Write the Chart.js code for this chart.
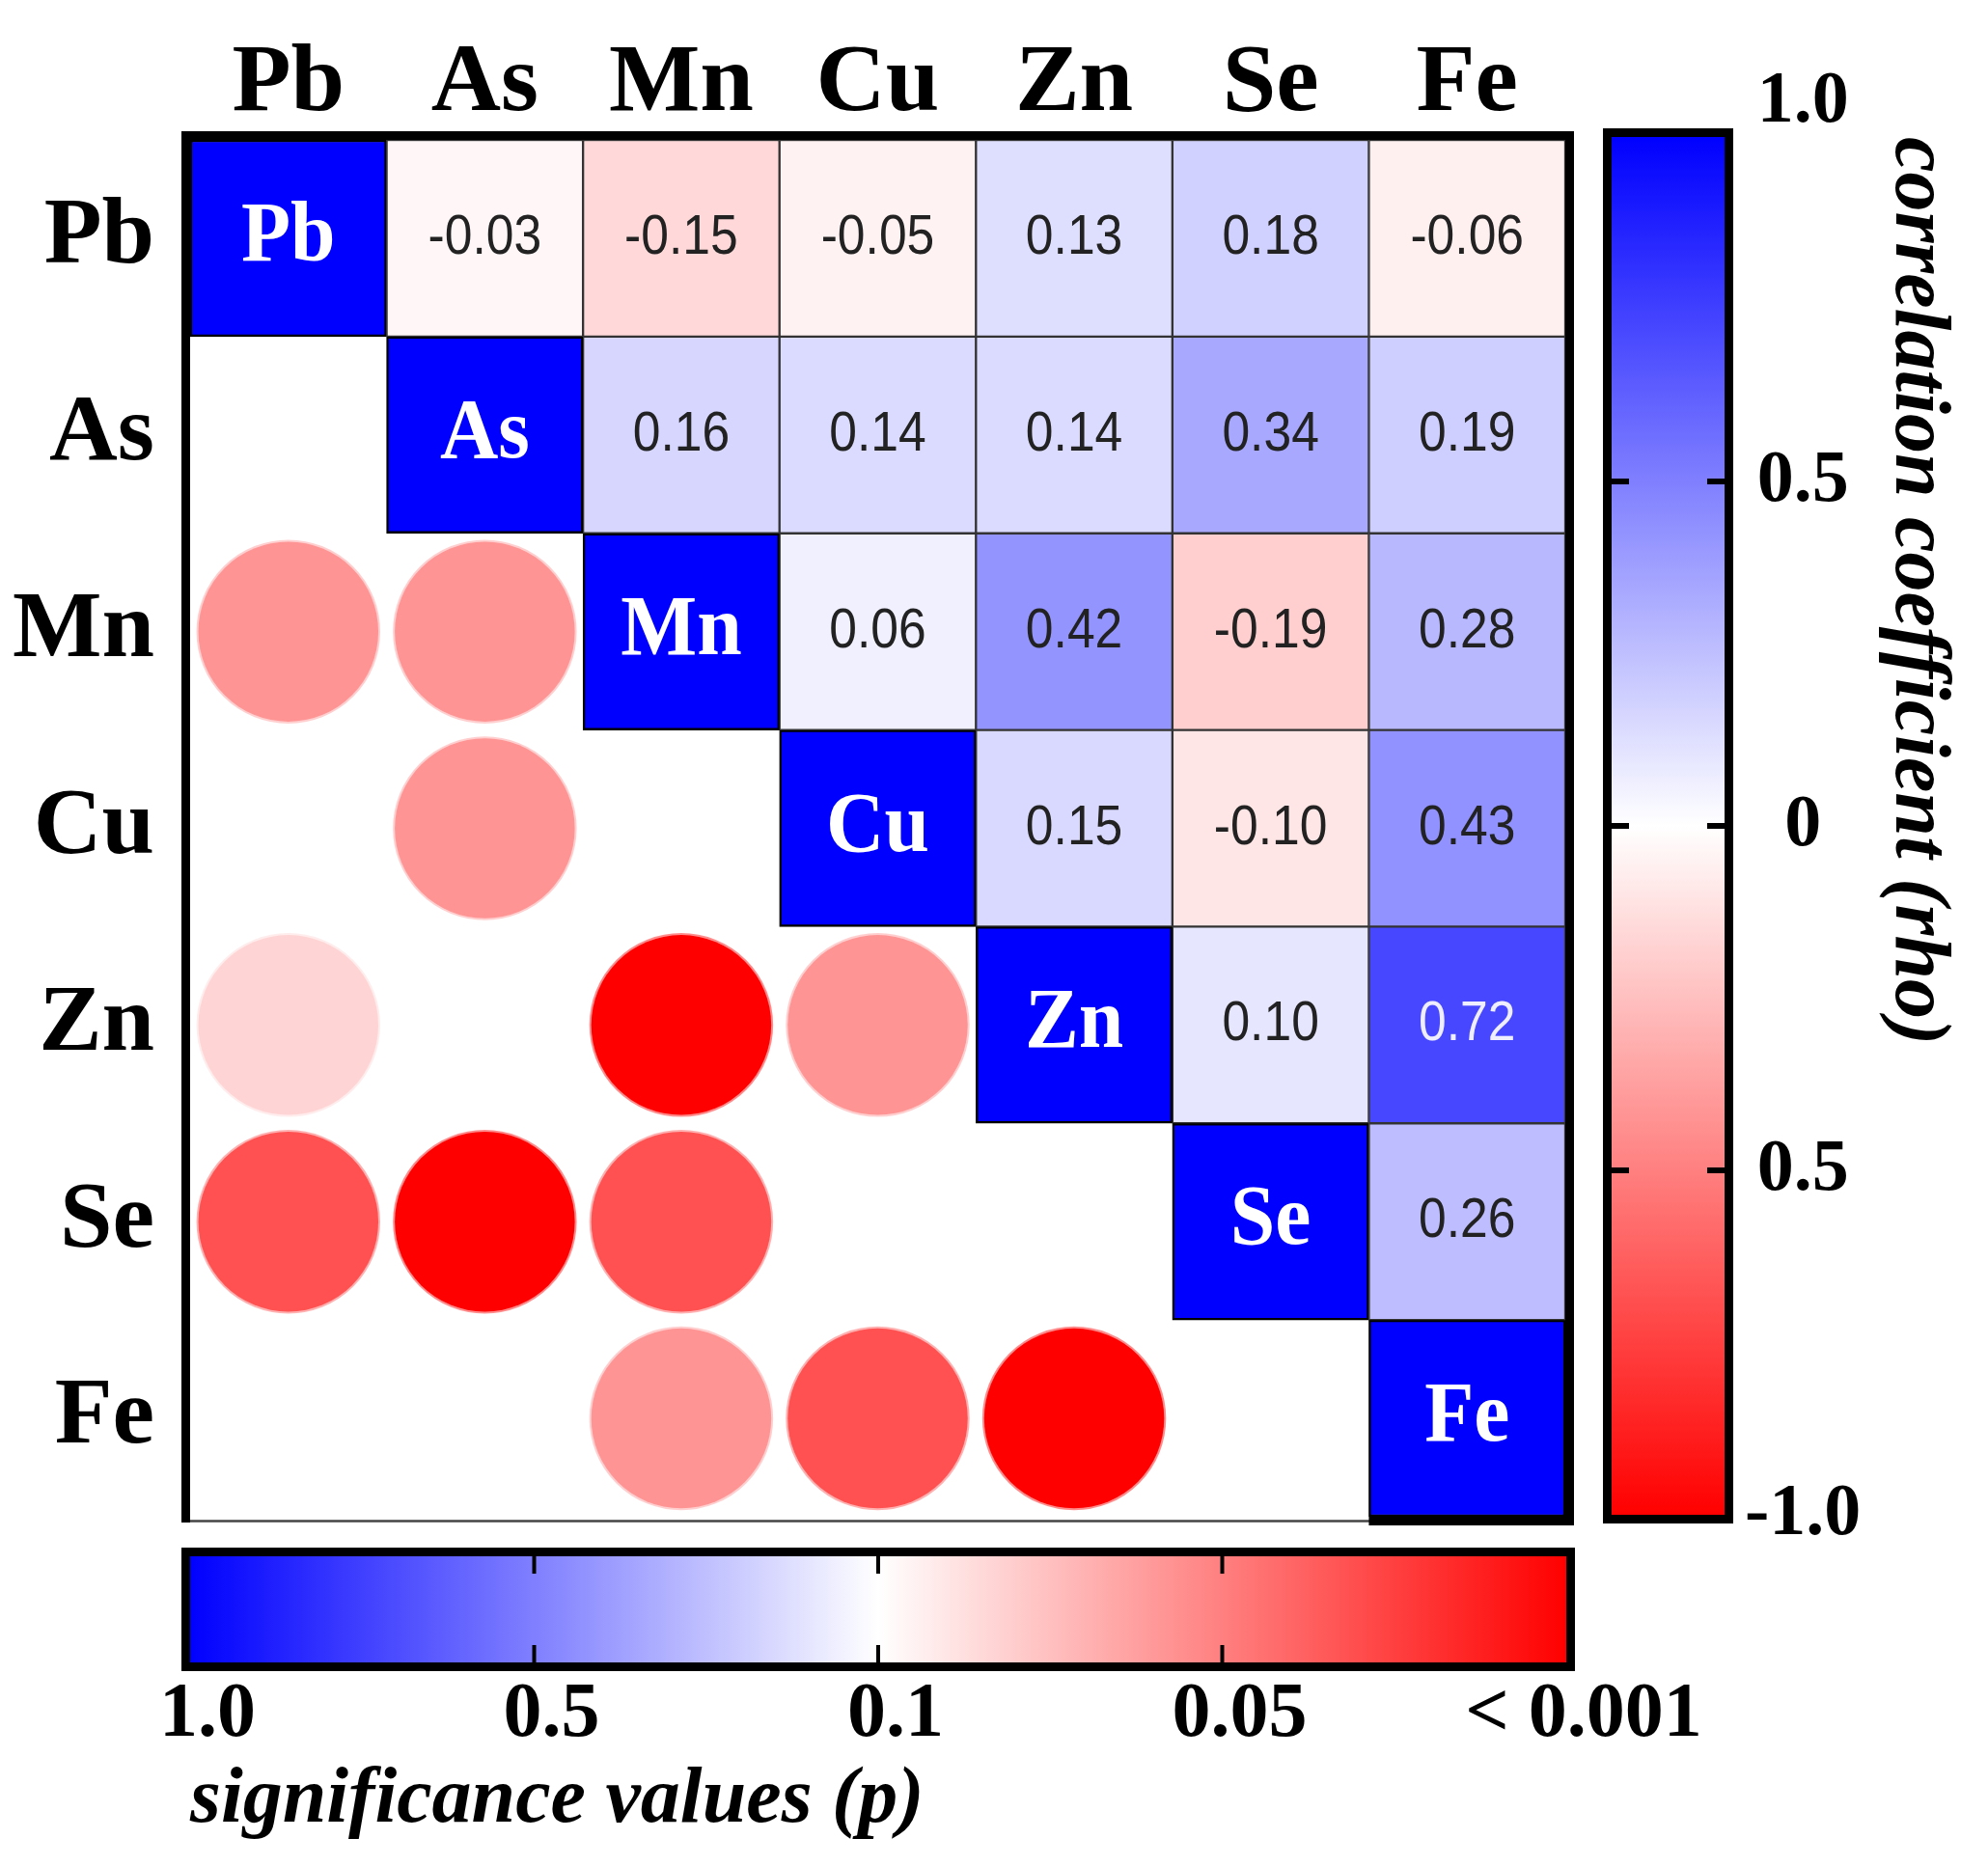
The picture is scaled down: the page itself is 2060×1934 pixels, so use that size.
<!DOCTYPE html>
<html>
<head>
<meta charset="utf-8">
<script src="https://cdn.jsdelivr.net/npm/chart.js@4.4.1/dist/chart.umd.min.js"></script>
<style>
  html, body { margin: 0; padding: 0; background: #ffffff; }
  #wrap { position: relative; width: 2060px; height: 1934px; overflow: hidden; background: #ffffff; }
  canvas { position: absolute; left: 0; top: 0; }
</style>
</head>
<body>
<div id="wrap">
  <canvas id="main" width="2060" height="1934"></canvas>
  <canvas id="rhoBar" width="2060" height="1934"></canvas>
  <canvas id="pBar" width="2060" height="1934"></canvas>
</div>
<script>
// ---------------- data ----------------
const elements = ['Pb', 'As', 'Mn', 'Cu', 'Zn', 'Se', 'Fe'];

// correlation coefficients (upper triangle, row element vs column element)
const rhoPb = [1, -0.03, -0.15, -0.05, 0.13, 0.18, -0.06];
const rhoAs = [null, 1, 0.16, 0.14, 0.14, 0.34, 0.19];
const rhoMn = [null, null, 1, 0.06, 0.42, -0.19, 0.28];
const rhoCu = [null, null, null, 1, 0.15, -0.10, 0.43];
const rhoZn = [null, null, null, null, 1, 0.10, 0.72];
const rhoSe = [null, null, null, null, null, 1, 0.26];
const rhoFe = [null, null, null, null, null, null, 1];

// significance values (lower triangle, only those drawn as circles)
const pPb = [null, null, null, null, null, null, null];
const pAs = [null, null, null, null, null, null, null];
const pMn = [0.056, 0.056, null, null, null, null, null];
const pCu = [null, 0.056, null, null, null, null, null];
const pZn = [0.079, null, 0.001, 0.056, null, null, null];
const pSe = [0.012, 0.001, 0.012, null, null, null, null];
const pFe = [null, null, 0.056, 0.012, 0.001, null, null];

// colour-bar ticks
const rhoTicks = [1, 0.5, 0, -0.5, -1];
const rhoTickLabels = ['1.0', '0.5', '0', '0.5', '-1.0'];
const pTicks = [1.0, 0.5, 0.1, 0.05, 0.001];
const pTickLabels = ['1.0', '0.5', '0.1', '0.05', '< 0.001'];

const rhoRows = [rhoPb, rhoAs, rhoMn, rhoCu, rhoZn, rhoSe, rhoFe];
const pRows = [pPb, pAs, pMn, pCu, pZn, pSe, pFe];

// ---------------- colour helpers ----------------
function rhoColor(r) {
  if (r >= 0) { const w = Math.round(255 * (1 - r)); return `rgb(${w},${w},255)`; }
  const w = Math.round(255 * (1 + r)); return `rgb(255,${w},${w})`;
}
function pPosition(p) {
  const n = pTicks.length - 1;
  if (p >= pTicks[0]) return 0;
  if (p <= pTicks[n]) return 1;
  for (let k = 0; k < n; k++) {
    const a = pTicks[k], b = pTicks[k + 1];
    if (p <= a && p >= b) {
      const f = (Math.log(a) - Math.log(p)) / (Math.log(a) - Math.log(b));
      return (k + f) / n;
    }
  }
  return 1;
}
function posColor(t, alpha) {
  let r, g, b;
  if (t <= 0.5) { const w = Math.round(510 * t); r = w; g = w; b = 255; }
  else { const w = Math.round(510 * (1 - t)); r = 255; g = w; b = w; }
  return alpha === undefined ? `rgb(${r},${g},${b})` : `rgba(${r},${g},${b},${alpha})`;
}

const SERIF = '"Liberation Serif", "Times New Roman", serif';
const SANS = '"Liberation Sans", Arial, sans-serif';

// ---------------- main heat map ----------------
const cellSets = rhoRows.map((row, i) => ({
  type: 'bar',
  label: 'rho ' + elements[i],
  data: row.map(v => (v === null ? null : [i, i + 1])),
  backgroundColor: row.map(v => (v === null ? 'rgba(0,0,0,0)' : rhoColor(v))),
  borderColor: row.map((v, j) => (j === i ? '#000000' : '#333333')),
  borderWidth: row.map((v, j) => (j === i ? 2.5 : 1.5)),
  borderSkipped: false,
  grouped: false,
  barPercentage: 1,
  categoryPercentage: 1,
  rhoValues: row,
  rowIndex: i,
  order: 2
}));

const circlePoints = [];
pRows.forEach((row, i) => row.forEach((p, j) => {
  if (p !== null) circlePoints.push({ x: elements[j], y: i + 0.5, p: p });
}));

function circleRadius(ctx) {
  const s = ctx.chart.scales.x;
  if (!s || !isFinite(s.right - s.left)) return 0;
  return (s.right - s.left) / elements.length * 0.458;
}

const circleSet = {
  type: 'scatter',
  label: 'p',
  data: circlePoints,
  showLine: false,
  pointStyle: 'circle',
  pointBackgroundColor: ctx => (ctx.raw ? posColor(pPosition(ctx.raw.p)) : 'rgba(0,0,0,0)'),
  pointBorderColor: ctx => (ctx.raw ? posColor(pPosition(ctx.raw.p), 0.45) : 'rgba(0,0,0,0)'),
  pointBorderWidth: 4,
  pointRadius: circleRadius,
  pointHoverRadius: circleRadius,
  order: 1
};

const cellTextPlugin = {
  id: 'cellText',
  afterDatasetsDraw(chart) {
    const ctx = chart.ctx;
    chart.data.datasets.forEach((ds, di) => {
      if (ds.rhoValues === undefined) return;
      const meta = chart.getDatasetMeta(di);
      meta.data.forEach((el, j) => {
        const v = ds.rhoValues[j];
        if (v === null || v === undefined) return;
        const { x, y, base } = el.getProps(['x', 'y', 'base'], true);
        const cy = (y + base) / 2;
        ctx.save();
        ctx.translate(x, cy);
        ctx.textAlign = 'center';
        ctx.textBaseline = 'alphabetic';
        if (j === ds.rowIndex) {
          ctx.scale(0.95, 1);
          ctx.font = 'bold 88px ' + SERIF;
          ctx.fillStyle = '#ffffff';
          ctx.fillText(elements[j], 0, 23);
        } else {
          ctx.scale(0.89, 1);
          ctx.font = '58px ' + SANS;
          ctx.fillStyle = v > 0.6 ? '#eeeeff' : '#222222';
          ctx.fillText(v.toFixed(2), 0, 16);
        }
        ctx.restore();
      });
    });
  }
};

const mainFramePlugin = {
  id: 'mainFrame',
  afterDraw(chart) {
    const ctx = chart.ctx;
    const { left, right, top, bottom } = chart.chartArea;
    const half = (right - left) / elements.length / 2;
    const xs = chart.scales.x;
    ctx.save();
    ctx.strokeStyle = '#444444';
    ctx.lineWidth = 2.5;
    ctx.beginPath();
    ctx.moveTo(left - 4.5, bottom + 4.5);
    ctx.lineTo(right, bottom + 4.5);
    ctx.stroke();
    ctx.strokeStyle = '#000000';
    ctx.lineWidth = 9;
    ctx.beginPath();
    ctx.moveTo(xs.getPixelForValue(elements.length - 1) - half, bottom + 4.5);
    ctx.lineTo(right + 9, bottom + 4.5);
    ctx.stroke();
    ctx.lineJoin = 'miter';
    ctx.beginPath();
    ctx.moveTo(left - 4.5, bottom + 6);
    ctx.lineTo(left - 4.5, top - 4.5);
    ctx.lineTo(right + 4.5, top - 4.5);
    ctx.lineTo(right + 4.5, bottom + 9);
    ctx.stroke();
    ctx.restore();
  }
};

new Chart(document.getElementById('main'), {
  type: 'bar',
  data: { labels: elements, datasets: [...cellSets, circleSet] },
  options: {
    responsive: false,
    animation: false,
    devicePixelRatio: 1,
    layout: { padding: { left: 0, top: 0, right: 438, bottom: 362 } },
    plugins: { legend: { display: false }, tooltip: { enabled: false } },
    events: [],
    scales: {
      x: {
        type: 'category',
        position: 'top',
        offset: true,
        grid: { display: false, drawTicks: false },
        border: { display: false },
        ticks: {
          color: '#000000',
          padding: -3,
          maxRotation: 0,
          autoSkip: false,
          font: { family: SERIF, weight: 'bold', size: 100 }
        },
        afterFit: s => { s.height = 145; }
      },
      y: {
        type: 'linear',
        position: 'left',
        min: 0,
        max: elements.length,
        reverse: true,
        grid: { display: false, drawTicks: false },
        border: { display: false },
        afterBuildTicks: s => { s.ticks = elements.map((_, i) => ({ value: i + 0.5 })); },
        ticks: {
          color: '#000000',
          padding: 37,
          autoSkip: false,
          font: { family: SERIF, weight: 'bold', size: 98 },
          callback: v => elements[Math.floor(v)]
        },
        afterFit: s => { s.width = 197; }
      }
    }
  },
  plugins: [cellTextPlugin, mainFramePlugin]
});

// ---------------- colour-bar frame helper ----------------
function barFramePlugin(kind) {
  return {
    id: 'barFrame_' + kind,
    afterDatasetsDraw(chart) {
      const ctx = chart.ctx;
      const { left, right, top, bottom } = chart.chartArea;
      ctx.save();
      ctx.strokeStyle = '#000000';
      if (kind === 'rho') {
        const ys = chart.scales.y;
        ctx.lineWidth = 6;
        rhoTicks.slice(1, -1).forEach(v => {
          const py = ys.getPixelForValue(v);
          ctx.beginPath(); ctx.moveTo(left, py); ctx.lineTo(left + 18, py); ctx.stroke();
          ctx.beginPath(); ctx.moveTo(right - 18, py); ctx.lineTo(right, py); ctx.stroke();
        });
      } else {
        const xs = chart.scales.x;
        ctx.lineWidth = 4;
        pTicks.slice(1, -1).forEach((_, k) => {
          const px = xs.getPixelForValue(k + 1);
          ctx.beginPath(); ctx.moveTo(px, top); ctx.lineTo(px, top + 18); ctx.stroke();
          ctx.beginPath(); ctx.moveTo(px, bottom - 18); ctx.lineTo(px, bottom); ctx.stroke();
        });
      }
      ctx.lineWidth = 9;
      ctx.strokeRect(left - 4.5, top - 4.5, right - left + 9, bottom - top + 9);
      ctx.restore();
    }
  };
}

// ---------------- correlation colour bar (right) ----------------
new Chart(document.getElementById('rhoBar'), {
  type: 'bar',
  data: {
    labels: ['rho'],
    datasets: [{
      data: [[rhoTicks[rhoTicks.length - 1], rhoTicks[0]]],
      backgroundColor: ctx => {
        const ch = ctx.chart;
        if (!ch.chartArea) return 'rgba(0,0,0,0)';
        const ys = ch.scales.y;
        const g = ch.ctx.createLinearGradient(0, ys.getPixelForValue(1), 0, ys.getPixelForValue(-1));
        g.addColorStop(0, rhoColor(1));
        g.addColorStop(0.5, rhoColor(0));
        g.addColorStop(1, rhoColor(-1));
        return g;
      },
      borderWidth: 0,
      barPercentage: 1,
      categoryPercentage: 1
    }]
  },
  options: {
    responsive: false,
    animation: false,
    devicePixelRatio: 1,
    events: [],
    layout: { padding: { left: 1670, top: 142, right: 0, bottom: 364 } },
    plugins: { legend: { display: false }, tooltip: { enabled: false } },
    scales: {
      x: { display: false },
      y: {
        type: 'linear',
        position: 'right',
        min: -1,
        max: 1,
        grid: { display: false, drawTicks: false },
        border: { display: false },
        afterBuildTicks: s => { s.ticks = rhoTicks.map(v => ({ value: v })); },
        ticks: {
          color: '#000000',
          padding: 21,
          crossAlign: 'center',
          autoSkip: false,
          font: { family: SERIF, weight: 'bold', size: 76, lineHeight: 0.95 },
          callback: v => {
            const k = rhoTicks.indexOf(v);
            const t = rhoTickLabels[k];
            return k === 0 ? [t, ''] : t;
          }
        },
        title: {
          display: true,
          text: 'correlation coefficient (rho)',
          align: 'end',
          color: '#000000',
          font: { family: SERIF, weight: 'bold', style: 'italic', size: 82 },
          padding: { top: 25, bottom: 0 }
        },
        afterFit: s => { s.width = 273; }
      }
    }
  },
  plugins: [barFramePlugin('rho')]
});

// ---------------- significance colour bar (bottom) ----------------
new Chart(document.getElementById('pBar'), {
  type: 'bar',
  data: {
    labels: ['p'],
    datasets: [{
      data: [[0, pTicks.length - 1]],
      backgroundColor: ctx => {
        const ch = ctx.chart;
        if (!ch.chartArea) return 'rgba(0,0,0,0)';
        const xs = ch.scales.x;
        const g = ch.ctx.createLinearGradient(xs.getPixelForValue(0), 0, xs.getPixelForValue(pTicks.length - 1), 0);
        g.addColorStop(0, posColor(0));
        g.addColorStop(0.5, posColor(0.5));
        g.addColorStop(1, posColor(1));
        return g;
      },
      borderWidth: 0,
      barPercentage: 1,
      categoryPercentage: 1
    }]
  },
  options: {
    indexAxis: 'y',
    responsive: false,
    animation: false,
    devicePixelRatio: 1,
    events: [],
    layout: { padding: { left: 197, right: 437, top: 1613, bottom: 0 } },
    plugins: { legend: { display: false }, tooltip: { enabled: false } },
    scales: {
      y: { display: false },
      x: {
        type: 'linear',
        position: 'bottom',
        min: 0,
        max: pTicks.length - 1,
        grid: { display: false, drawTicks: false },
        border: { display: false },
        afterBuildTicks: s => { s.ticks = pTicks.map((_, k) => ({ value: k })); },
        ticks: {
          color: '#000000',
          padding: 7,
          labelOffset: 18,
          maxRotation: 0,
          autoSkip: false,
          font: { family: SERIF, weight: 'bold', size: 80 },
          callback: v => pTickLabels[v]
        },
        title: {
          display: true,
          text: 'significance values (p)',
          align: 'start',
          color: '#000000',
          font: { family: SERIF, weight: 'bold', style: 'italic', size: 82 },
          padding: { top: 0, bottom: 18 }
        },
        afterFit: s => { s.height = 211; }
      }
    }
  },
  plugins: [barFramePlugin('p')]
});
</script>
</body>
</html>
